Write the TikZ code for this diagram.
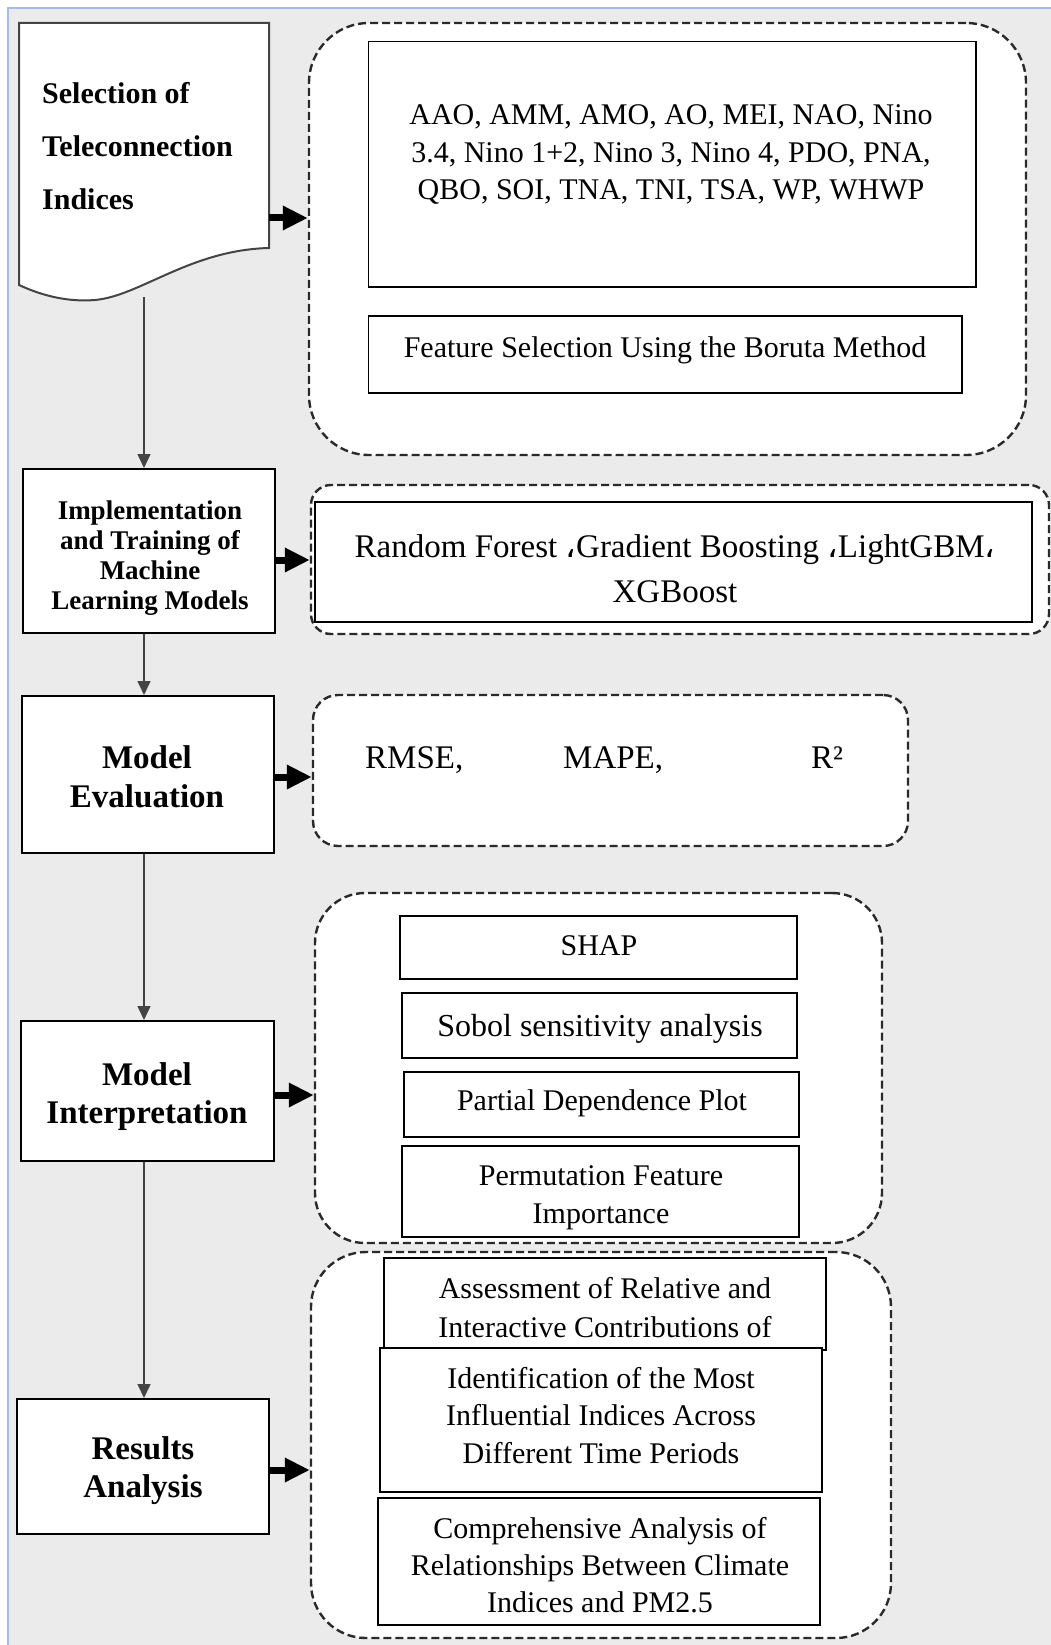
\documentclass[tikz,border=0pt]{standalone}
\usepackage{fontspec}
\setmainfont{Liberation Serif}
\newfontfamily\arabicfont[Script=Arabic]{DejaVu Sans}
\usetikzlibrary{arrows.meta,fit}
\definecolor{bggray}{HTML}{EBEBEB}
\definecolor{bordblue}{HTML}{A4BCE6}
\definecolor{dashcol}{HTML}{2A2A2A}
\definecolor{linecol}{HTML}{444444}
\begin{document}
\begin{tikzpicture}[x=1pt,y=-1pt,
  stagebox/.style={draw=black, line width=2pt, fill=white, inner sep=0pt},
  itembox/.style={draw=black, line width=1.6pt, fill=white, inner sep=0pt},
  groupbox/.style={draw=dashcol, line width=2.4pt, dash pattern=on 8pt off 4pt, fill=white, inner sep=0pt},
  stagetxt/.style={font=\bfseries\fontsize{33}{38}\selectfont, align=center, inner sep=0pt, anchor=base},
  itemtxt/.style={font=\fontsize{30}{37.5}\selectfont, align=center, inner sep=0pt, anchor=base},
  thinarrow/.style={draw=linecol, line width=1.5pt, -{Triangle[length=14pt,width=13pt]}},
  thickarrow/.style={draw=black, line width=7pt, -{Triangle[length=25pt,width=23pt]}}
]
\useasboundingbox (0,0) rectangle (1051,1645);
% background
\fill[bggray] (8,8) rectangle (1051,1645);
\draw[bordblue, line width=2pt] (8,1645) -- (8,8) -- (1051,8);

% document shape
\draw[draw=linecol, line width=2pt, fill=white] (19,23) -- (269,23) -- (269,248)
  .. controls (190,250) and (140,296) .. (95,300)
  .. controls (70,302) and (45,297) .. (19,285) -- cycle;
\coordinate (docbot) at (144,297);
\coordinate (docright) at (269,218);
\node[font=\bfseries\fontsize{30}{53}\selectfont, align=left, inner sep=0pt, anchor=base west] (sel) at (42,210)
  {Selection of\\Teleconnection\\Indices};

% stage boxes
\node[stagebox, fit={(23,469)(275,633)}] (impl) {};
\node[stagetxt, font=\bfseries\fontsize{27}{30}\selectfont] (impltxt) at (150,609)
  {Implementation\\and Training of\\Machine\\Learning Models};
\node[stagebox, fit={(21.5,696)(273.5,853)}] (eval) {};
\node[stagetxt, font=\bfseries\fontsize{33}{39}\selectfont] (evaltxt) at (147,807) {Model\\Evaluation};
\node[stagebox, fit={(21,1021)(274,1161)}] (interp) {};
\node[stagetxt] (interptxt) at (147,1123) {Model\\Interpretation};
\node[stagebox, fit={(17,1399)(269,1534)}] (res) {};
\node[stagetxt] (restxt) at (143,1497) {Results\\Analysis};

% group 1
\node[groupbox, rounded corners=60pt, fit={(309,23)(1026,455)}] (g1) {};
\node[itembox, fit={(368.5,41.5)(976,287)}] (idx) {};
\node[itemtxt] (idxtxt) at (671,200)
  {AAO, AMM, AMO, AO, MEI, NAO, Nino\\3.4, Nino 1+2, Nino 3, Nino 4, PDO, PNA,\\QBO, SOI, TNA, TNI, TSA, WP, WHWP};
\node[itembox, fit={(368.5,316)(962,393)}] (boruta) {};
\node[itemtxt] (borutatxt) at (665,357) {Feature Selection Using the Boruta Method};

% group 2
\node[groupbox, rounded corners=20pt, fit={(311,485)(1049,634)}] (g2) {};
\node[itembox, fit={(315,502)(1032,622)}] (models) {};
\node[itemtxt, font=\fontsize{33}{45}\selectfont] (modelstxt) at (675,602)
  {Random Forest {\arabicfont ،}Gradient Boosting {\arabicfont ،}LightGBM{\arabicfont ،}\\XGBoost};

% group 3
\node[groupbox, rounded corners=25pt, fit={(313,695)(908,846)}] (g3) {};
\node[itemtxt, font=\fontsize{33}{40}\selectfont, anchor=base west] (rmse) at (365,768) {RMSE,};
\node[itemtxt, font=\fontsize{33}{40}\selectfont, anchor=base west] (mape) at (563,768) {MAPE,};
\node[itemtxt, font=\fontsize{33}{40}\selectfont, anchor=base west] (rsq) at (811,768) {R²};

% group 4
\node[groupbox, rounded corners=50pt, fit={(315,893)(882,1243)}] (g4) {};
\node[itembox, fit={(400,916)(797,979)}] (shap) {};
\node[itemtxt] (shaptxt) at (599,955) {SHAP};
\node[itembox, fit={(402,993)(797,1058)}] (sobol) {};
\node[itemtxt, font=\fontsize{32}{38}\selectfont] (sobtxt) at (600,1036) {Sobol sensitivity analysis};
\node[itembox, fit={(404,1072)(799,1137)}] (pdp) {};
\node[itemtxt] (pdptxt) at (602,1110) {Partial Dependence Plot};
\node[itembox, fit={(402,1146)(799,1237)}] (pfi) {};
\begin{scope}
\clip (402,1146) rectangle (799,1229);
\node[itemtxt] (pfitxt) at (601,1223) {Permutation Feature\\Importance};
\end{scope}

% group 5
\node[groupbox, rounded corners=55pt, fit={(311,1252)(891,1638)}] (g5) {};
\node[itembox, fit={(384,1258)(826,1350)}] (assess) {};
\node[itemtxt, font=\fontsize{30}{39}\selectfont] (assesstxt) at (605,1337)
  {Assessment of Relative and\\Interactive Contributions of};
\node[itembox, fit={(380,1348)(822,1492)}] (ident) {};
\node[itemtxt, font=\fontsize{30}{37.5}\selectfont] (identtxt) at (601,1463)
  {Identification of the Most\\Influential Indices Across\\Different Time Periods};
\node[itembox, fit={(378,1498)(820,1625)}] (compr) {};
\node[itemtxt, font=\fontsize{30}{37}\selectfont] (comprtxt) at (600,1612)
  {Comprehensive Analysis of\\Relationships Between Climate\\Indices and PM2.5};

% thin vertical connectors
\draw[thinarrow] (docbot) -- (docbot |- impl.north);
\draw[thinarrow] (impl.south -| docbot) -- (eval.north -| docbot);
\draw[thinarrow] (eval.south -| docbot) -- (interp.north -| docbot);
\draw[thinarrow] (interp.south -| docbot) -- (res.north -| docbot);

% thick horizontal arrows
\draw[thickarrow] (docright) -- (docright -| g1.west);
\draw[thickarrow] ([yshift=-9pt]impl.east) -- ([yshift=-9pt]impl.east -| g2.west);
\draw[thickarrow] ([yshift=-2.5pt]eval.east) -- ([yshift=-2.5pt]eval.east -| g3.west);
\draw[thickarrow] ([yshift=-4pt]interp.east) -- ([yshift=-4pt]interp.east -| g4.west);
\draw[thickarrow] ([yshift=-3.5pt]res.east) -- ([yshift=-3.5pt]res.east -| g5.west);
\end{tikzpicture}
\end{document}
